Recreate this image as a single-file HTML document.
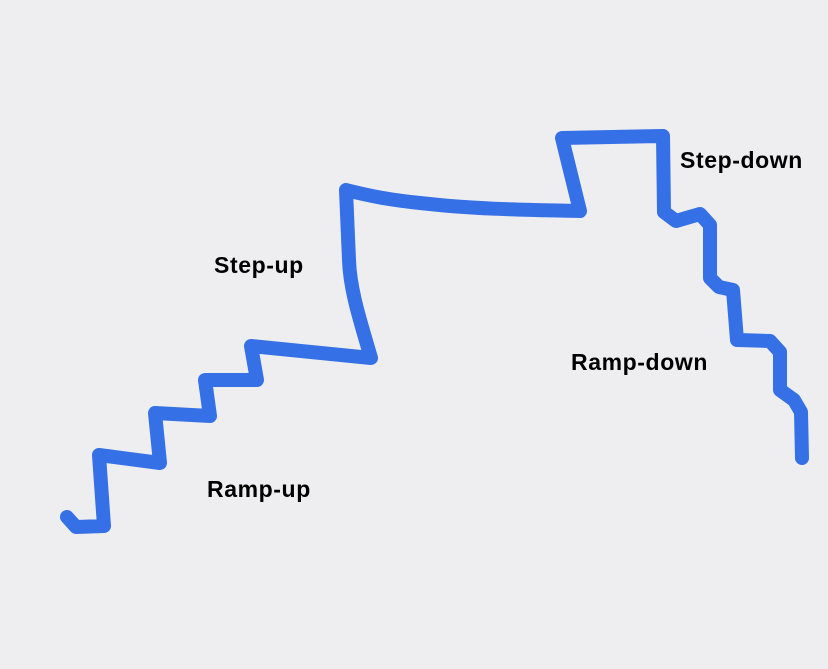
<!DOCTYPE html>
<html><head><style>
html,body{margin:0;padding:0;background:#eeeef0;}
svg{display:block;}
text{font-family:"Liberation Sans",sans-serif;font-weight:bold;font-size:23px;letter-spacing:0.6px;fill:#000;}
</style></head><body>
<svg width="828" height="669" viewBox="0 0 828 669">
<rect width="828" height="669" fill="#eeeef0"/>
<path d="M67,517 L76,527 L104,526 L99,455 L160,463 L155,413 L210,416 L205,380 L257,380 L251,346 L371,358 C360,320 350,290 349,260 L346,190 C370,196 390,200 420,203 C480,210 540,210 580,211 L562,138 L663,136 L664,212 L676,221 L700,214 L710,225 L710,278 L719,287 L733,290 L737,340 L770,341 L780,352 L780,390 L794,400 L801,412 L802,458"
 fill="none" stroke="#2e6be6" stroke-width="14" stroke-linejoin="round" stroke-linecap="round" opacity="0.97"/>
<text x="214" y="273">Step-up</text>
<text x="207" y="497">Ramp-up</text>
<text x="680" y="168">Step-down</text>
<text x="571" y="370">Ramp-down</text>
</svg>
</body></html>
